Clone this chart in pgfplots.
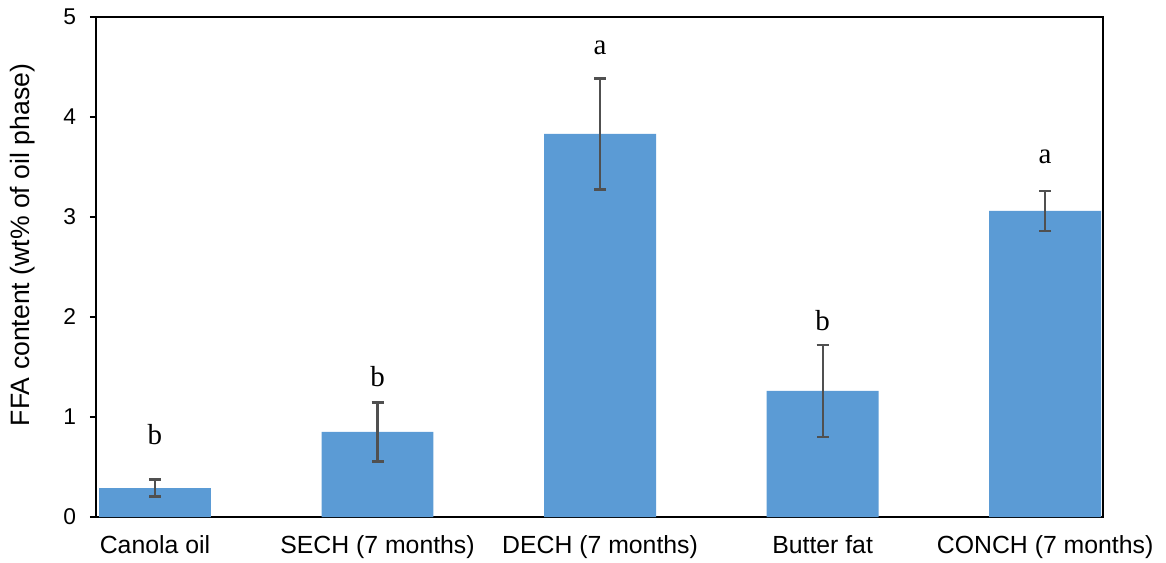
\documentclass[border=0pt]{standalone}
\usepackage{pgfplots}
\pgfplotsset{compat=1.18}
\usepackage{fontspec}
\setmainfont{Liberation Sans}
\newfontfamily\serifletters{Liberation Serif}
\definecolor{barblue}{RGB}{91,155,213}
\definecolor{errgrey}{RGB}{80,80,80}
\begin{document}
\begin{tikzpicture}
\useasboundingbox (0,0) rectangle (583pt,281pt);
\begin{axis}[
  at={(48pt,22.5pt)}, anchor=south west,
  scale only axis, width=503.5pt, height=250pt,
  xmin=-0.265, xmax=4.26, ymin=0, ymax=5,
  ytick={0,1,2,3,4,5},
  xtick={0,1,2,3,4},
  xticklabels={Canola oil, SECH (7 months), DECH (7 months), Butter fat, CONCH (7 months)},
  x tick style={draw=none},
  y tick style={black, line width=0.8pt},
  tick align=outside, ytick pos=left, xtick pos=bottom,
  major tick length=3pt,
  axis line style={black, line width=0.9pt},
  /pgf/number format/assume math mode=true,
  xticklabel style={font=\fontsize{12.4pt}{14pt}\selectfont, yshift=-2.5pt},
  yticklabel style={font=\fontsize{11.4pt}{14pt}\selectfont, xshift=-3.5pt},
  ylabel={FFA content (wt\% of oil phase)},
  every axis y label/.style={at={(axis description cs:-0.0725,0.544)}, rotate=90, anchor=center, font=\fontsize{13.3pt}{15pt}\selectfont},
  clip=false,
]
\addplot[ybar, bar width=0.503, fill=barblue, draw=none,
  error bars/.cd, y dir=both, y explicit,
  error bar style={errgrey, line width=1.1pt},
  error mark options={errgrey, line width=1.1pt, mark size=3pt, rotate=90}]
  coordinates {
    (0,0.29) +- (0,0.085)
    (1,0.85) +- (0,0.295)
    (2,3.83) +- (0,0.555)
    (3,1.26) +- (0,0.46)
    (4,3.06) +- (0,0.20)
  };
\node[anchor=base, font=\serifletters\fontsize{14.5pt}{16pt}\selectfont] at (axis cs:0,0.725) {b};
\node[anchor=base, font=\serifletters\fontsize{14.5pt}{16pt}\selectfont] at (axis cs:1,1.305) {b};
\node[anchor=base, font=\serifletters\fontsize{14.5pt}{16pt}\selectfont] at (axis cs:2,4.625) {a};
\node[anchor=base, font=\serifletters\fontsize{14.5pt}{16pt}\selectfont] at (axis cs:3,1.865) {b};
\node[anchor=base, font=\serifletters\fontsize{14.5pt}{16pt}\selectfont] at (axis cs:4,3.535) {a};
\end{axis}
\end{tikzpicture}
\end{document}
